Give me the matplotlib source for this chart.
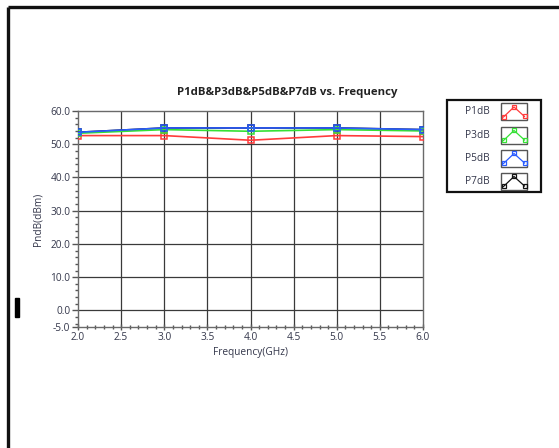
import matplotlib
matplotlib.use("Agg")
import matplotlib.pyplot as plt
from matplotlib.ticker import MultipleLocator, FormatStrFormatter
from matplotlib.patches import Rectangle

plt.rcParams['font.family'] = ['Open Sans', 'DejaVu Sans']

# Data
freq = [2.0, 3.0, 4.0, 5.0, 6.0]
p1db = [52.6, 52.6, 51.2, 52.6, 52.3]
p3db = [53.3, 54.4, 53.9, 54.4, 54.0]
p5db = [53.6, 54.9, 54.9, 54.9, 54.4]
p7db = [53.6, 54.9, 54.9, 54.9, 54.4]
series_names = ["P1dB", "P3dB", "P5dB", "P7dB"]
series_colors = ["#ff3b3b", "#35e035", "#2a5cff", "#111111"]
title = "P1dB&P3dB&P5dB&P7dB vs. Frequency"
xlabel = "Frequency(GHz)"
ylabel = "PndB(dBm)"

W, H = 559, 448
fig = plt.figure(figsize=(W / 100, H / 100), dpi=100)

def fx(px):
    return px / W

def fy(py):
    return 1 - py / H

left, right, top, bottom = 78, 423, 111, 327
ax = fig.add_axes([fx(left), fy(bottom), fx(right) - fx(left), fy(top) - fy(bottom)])

txtcol = "#33364a"
gridcol = "#3a3a3a"

# P7dB drawn first (hidden behind others)
data = [p1db, p3db, p5db, p7db]
zorders = [4, 5, 6, 3]
for i in range(4):
    ax.plot(freq, data[i], color=series_colors[i], lw=1.2, marker='s', ms=4.5,
            mfc='none', mec=series_colors[i], mew=1.1, zorder=zorders[i])

ax.set_xlim(2.0, 6.0)
ax.set_ylim(-5.0, 60.0)
ax.xaxis.set_major_locator(MultipleLocator(0.5))
ax.xaxis.set_minor_locator(MultipleLocator(0.1))
ax.set_yticks([-5.0, 0.0, 10.0, 20.0, 30.0, 40.0, 50.0, 60.0])
ax.yaxis.set_minor_locator(MultipleLocator(2.0))
ax.xaxis.set_major_formatter(FormatStrFormatter('%.1f'))
ax.yaxis.set_major_formatter(FormatStrFormatter('%.1f'))

for x in [2.5, 3.0, 3.5, 4.0, 4.5, 5.0, 5.5]:
    ax.axvline(x, color=gridcol, lw=0.9, zorder=1)
for y in [0, 10, 20, 30, 40, 50]:
    ax.axhline(y, color=gridcol, lw=0.9, zorder=1)

for s in ax.spines.values():
    s.set_color("#6a6a6a")
    s.set_linewidth(1.0)

ax.tick_params(axis='both', which='major', direction='out', length=4, width=1,
               color="#555555", labelsize=7.3, labelcolor=txtcol, pad=1.5)
ax.tick_params(axis='both', which='minor', direction='out', length=2.5, width=1,
               color="#555555")
ax.tick_params(axis='x', which='both', direction='inout')

ax.set_xlabel(xlabel, fontsize=7.3, color=txtcol, labelpad=3)
ax.set_ylabel(ylabel, fontsize=7.3, color=txtcol, labelpad=5)

fig.text(fx(287.5), fy(92), title, fontsize=8.2, fontweight='bold',
         color="#222222", ha='center', va='center')

# Overlay axes for decorations in pixel coordinates
ov = fig.add_axes([0, 0, 1, 1], zorder=10)
ov.set_xlim(0, W)
ov.set_ylim(H, 0)
ov.axis('off')
ov.patch.set_alpha(0)

# window frame
ov.plot([7.5, W], [7, 7], color="#111111", lw=2.4, solid_capstyle='butt')
ov.plot([7.5, 7.5], [7, H], color="#111111", lw=2.4, solid_capstyle='butt')
# small cursor bar
ov.add_patch(Rectangle((15, 298), 3.5, 19, color="black"))

# legend box
ov.add_patch(Rectangle((447, 100.5), 94, 91.5, fill=False, ec="#111111", lw=1.6))
row_y = [112, 135.5, 158.5, 181.5]
for i, name in enumerate(series_names):
    yc = row_y[i]
    ov.text(477, yc, name, fontsize=7.3, color=txtcol, ha='center', va='center')
    ov.add_patch(Rectangle((501, yc - 8.5), 26, 17, fill=False, ec="#555555", lw=1.0))
    ix = [503.5, 514, 524.5]
    iy = [yc + 5, yc - 5, yc + 4.5]
    ov.plot(ix, iy, color=series_colors[i], lw=0.9, marker='s', ms=3,
            mfc='none', mec=series_colors[i], mew=0.9)

fig.savefig("out.png", dpi=100)
